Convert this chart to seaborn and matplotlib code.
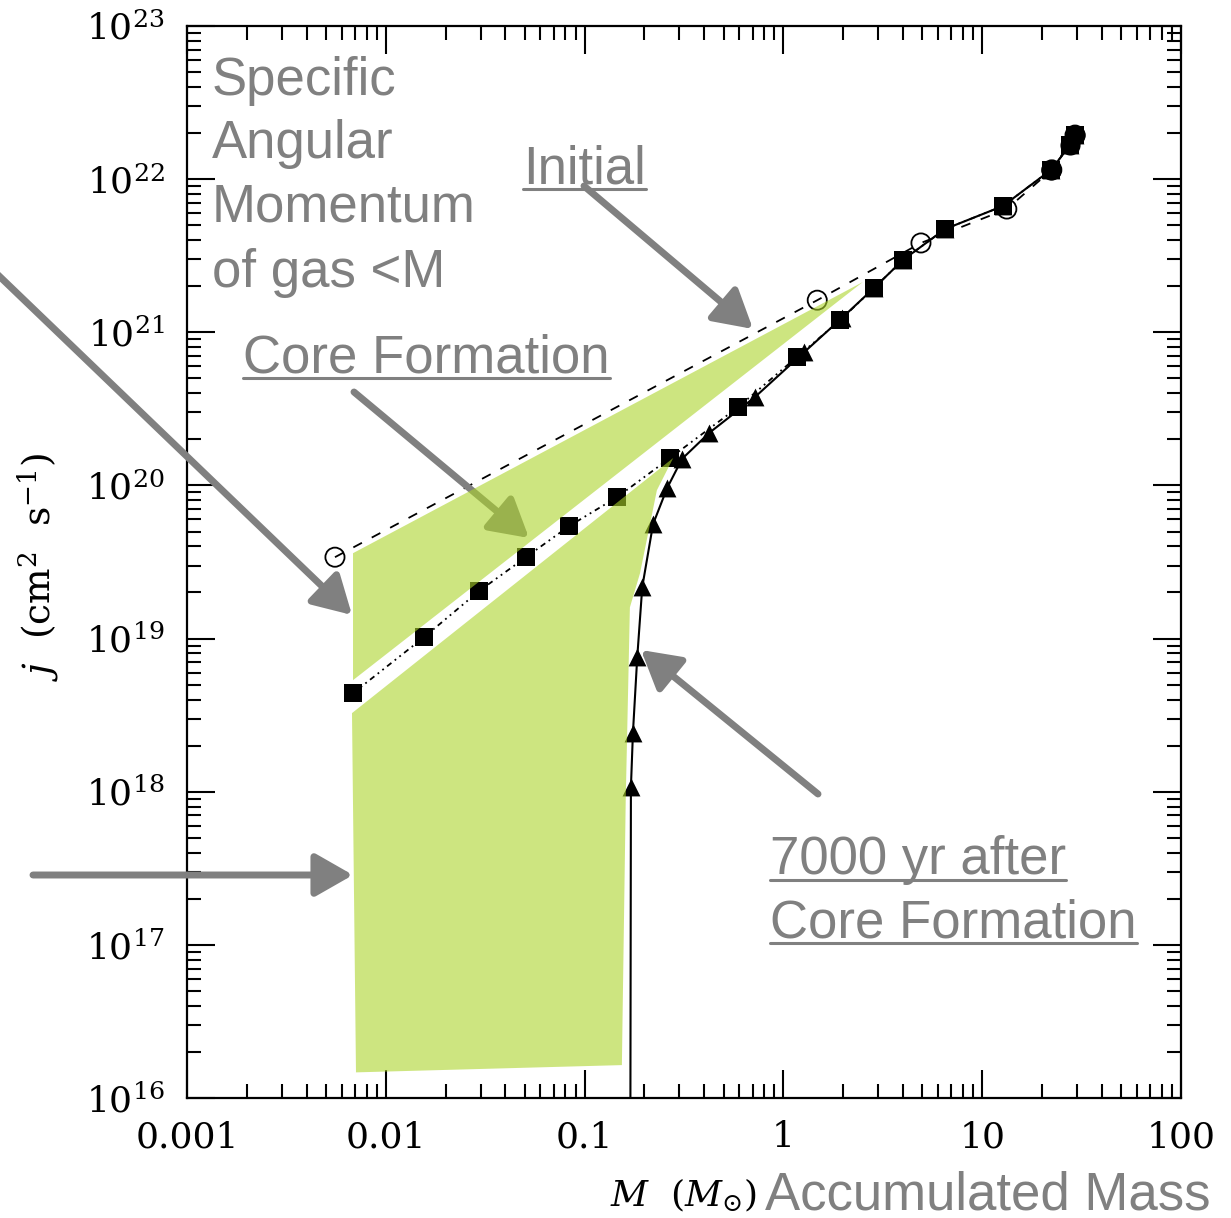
import numpy as np
import pandas as pd
import matplotlib
matplotlib.use("Agg")
import matplotlib.pyplot as plt
import matplotlib.ticker as mticker
from matplotlib.lines import Line2D
import seaborn as sns

# ---------------- data ----------------
# Initial distribution (open circles, dashed)
init_M = [0.00555, 1.48, 4.92, 13.3, 22.4, 29.3]
init_j = [3.4e19, 1.62e21, 3.83e21, 6.38e21, 1.15e22, 1.94e22]

# Core formation epoch (filled squares, dash-dot-dot)
core_M = [0.00684, 0.01556, 0.0294, 0.0507, 0.0835, 0.146, 0.269, 0.591,
          1.17, 1.93, 2.86, 4.0, 6.5, 12.7, 22.2, 27.7, 29.4]
core_j = [4.4e18, 1.02e19, 2.04e19, 3.4e19, 5.42e19, 8.4e19, 1.51e20, 3.24e20,
          6.9e20, 1.2e21, 1.95e21, 2.97e21, 4.72e21, 6.67e21, 1.15e22, 1.67e22, 1.94e22]

# 7000 yr after core formation (filled triangles, solid)
late_M = [0.171, 0.175, 0.184, 0.195, 0.221, 0.260, 0.309, 0.423, 0.72,
          1.27, 1.97, 2.86, 4.0, 6.5, 12.7, 22.2, 27.7, 29.4]
late_j = [1.07e18, 2.41e18, 7.56e18, 2.17e19, 5.59e19, 9.6e19, 1.49e20, 2.2e20, 3.78e20,
          7.4e20, 1.24e21, 1.95e21, 2.97e21, 4.72e21, 6.67e21, 1.15e22, 1.67e22, 1.94e22]
# the solid line continues straight down to the bottom of the frame
late_tail_M = [0.170]
late_tail_j = [1e16]

# outer shells (filled circles at the top end)
outer_M = [22.2, 27.7, 29.4]
outer_j = [1.15e22, 1.67e22, 1.94e22]

# shaded regions (green)
wedge_M = [0.00684, 0.00684, 2.51]
wedge_j = [3.61e19, 5.35e18, 2.13e21]
lower_M = [0.00676, 0.279, 0.231, 0.190, 0.169, 0.161, 0.154, 0.00708]
lower_j = [3.26e18, 1.51e20, 9.3e19, 2.67e19, 1.6e19, 8.8e17, 1.64e16, 1.47e16]

x_ticks = [0.001, 0.01, 0.1, 1, 10, 100]
x_labels = ["0.001", "0.01", "0.1", "1", "10", "100"]
y_exps = [16, 17, 18, 19, 20, 21, 22, 23]

# ---------------- styling ----------------
sns.set_theme(style="ticks")
plt.rcParams["font.family"] = ["DejaVu Serif"]
plt.rcParams["mathtext.fontset"] = "dejavuserif"
plt.rcParams["lines.scale_dashes"] = False

W, H = 1231, 1218
GRAY = "#808080"
GREEN = "#add52b"

fig = plt.figure(figsize=(W / 100, H / 100), dpi=100)
fig.patch.set_facecolor("white")
ax = fig.add_axes([187 / W, 1 - 1098 / H, (1181 - 187) / W, (1098 - 26) / H])
ax.set_facecolor("white")

ax.set_xscale("log")
ax.set_yscale("log")
ax.set_xlim(1e-3, 1e2)
ax.set_ylim(1e16, 1e23)

# lines
sns.lineplot(x=init_M, y=init_j, sort=False, estimator=None, ax=ax,
             color="black", lw=1.3, linestyle=(0, (7, 8)))
sns.lineplot(x=core_M, y=core_j, sort=False, estimator=None, ax=ax,
             color="black", lw=1.3, linestyle=(0, (4, 3, 1.3, 3, 1.3, 3)))
sns.lineplot(x=late_tail_M + late_M, y=late_tail_j + late_j, sort=False,
             estimator=None, ax=ax, color="black", lw=1.5)

# markers
sns.scatterplot(x=init_M, y=init_j, ax=ax, marker="o", s=190,
                facecolor="none", edgecolor="black", linewidth=1.3, zorder=4)
sns.scatterplot(x=core_M, y=core_j, ax=ax, marker="s", s=165,
                color="black", edgecolor="black", linewidth=0, zorder=4)
sns.scatterplot(x=late_M, y=late_j, ax=ax, marker="^", s=165,
                color="black", edgecolor="black", linewidth=0, zorder=4)
sns.scatterplot(x=outer_M, y=outer_j, ax=ax, marker="o", s=210,
                color="black", edgecolor="black", linewidth=0, zorder=4)

# shaded regions
ax.fill(wedge_M, wedge_j, color=GREEN, alpha=0.6, lw=0, zorder=6)
ax.fill(lower_M, lower_j, color=GREEN, alpha=0.6, lw=0, zorder=6)

# ticks
ax.xaxis.set_major_locator(mticker.FixedLocator(x_ticks))
ax.xaxis.set_major_formatter(mticker.FixedFormatter(x_labels))
ax.xaxis.set_minor_locator(mticker.LogLocator(base=10, subs=np.arange(2, 10), numticks=100))
ax.xaxis.set_minor_formatter(mticker.NullFormatter())
ax.yaxis.set_major_locator(mticker.FixedLocator([10.0 ** e for e in y_exps]))
ax.yaxis.set_major_formatter(mticker.FixedFormatter([rf"$10^{{{e}}}$" for e in y_exps]))
ax.yaxis.set_minor_locator(mticker.LogLocator(base=10, subs=np.arange(2, 10), numticks=100))
ax.yaxis.set_minor_formatter(mticker.NullFormatter())

ax.tick_params(which="both", direction="in", top=True, right=True,
               color="black", width=1.5)
ax.tick_params(which="major", length=20)
ax.tick_params(which="minor", length=10)
ax.tick_params(axis="x", which="major", pad=16, labelsize=26, labelcolor="black")
ax.tick_params(axis="y", which="major", pad=16, labelsize=26, labelcolor="black")
for sp in ax.spines.values():
    sp.set_visible(True)
    sp.set_linewidth(1.6)
    sp.set_color("black")


def fx(px):
    return px / W


def fy(py):
    return 1 - py / H


SANS = ["Liberation Sans", "DejaVu Sans"]

# axis labels
fig.text(fx(38), fy(567), r"$j\ \ (\mathrm{cm}^{2}\ \ \mathrm{s}^{-1})$", rotation=90,
         ha="center", va="center", fontsize=27, color="black")
fig.text(fx(610), fy(1206), r"$M\ \ (M_{\odot})$", ha="left", va="baseline",
         fontsize=26, color="black")
fig.text(fx(765), fy(1209), "Accumulated Mass", ha="left", va="baseline",
         fontsize=38, color=GRAY, family=SANS)

# annotations
for txt, yb in [("Specific", 95), ("Angular", 158), ("Momentum", 222), ("of gas <M", 287)]:
    fig.text(fx(212), fy(yb), txt, ha="left", va="baseline", fontsize=38,
             color=GRAY, family=SANS)

underlined = [
    ("Initial", 523, 183),
    ("Core Formation", 243, 372),
    ("7000 yr after", 770, 874),
    ("Core Formation", 770, 937),
]
utexts = []
for txt, x0, yb in underlined:
    t = fig.text(fx(x0), fy(yb), txt, ha="left", va="baseline", fontsize=38,
                 color=GRAY, family=SANS)
    utexts.append((t, yb))

fig.canvas.draw()
renderer = fig.canvas.get_renderer()
for t, yb in utexts:
    bb = t.get_window_extent(renderer)
    fig.add_artist(Line2D([bb.x0 / W, bb.x1 / W], [fy(yb + 6), fy(yb + 6)],
                          transform=fig.transFigure, color=GRAY, lw=2.2))

arrows = [
    ((-4, 273), (352, 615)),
    ((33, 875), (353, 875)),
    ((584, 186), (753, 329)),
    ((354, 392), (529, 538)),
    ((818, 794), (641, 650)),
]
for (x0, y0), (x1, y1) in arrows:
    ax.annotate("", xy=(fx(x1), fy(y1)), xytext=(fx(x0), fy(y0)),
                xycoords="figure fraction", textcoords="figure fraction",
                annotation_clip=False,
                arrowprops=dict(arrowstyle="-|>,head_length=1.05,head_width=0.6",
                                mutation_scale=22, lw=5, color=GRAY,
                                shrinkA=0, shrinkB=0),
                zorder=5)

fig.savefig("out.png", dpi=100, facecolor="white")
